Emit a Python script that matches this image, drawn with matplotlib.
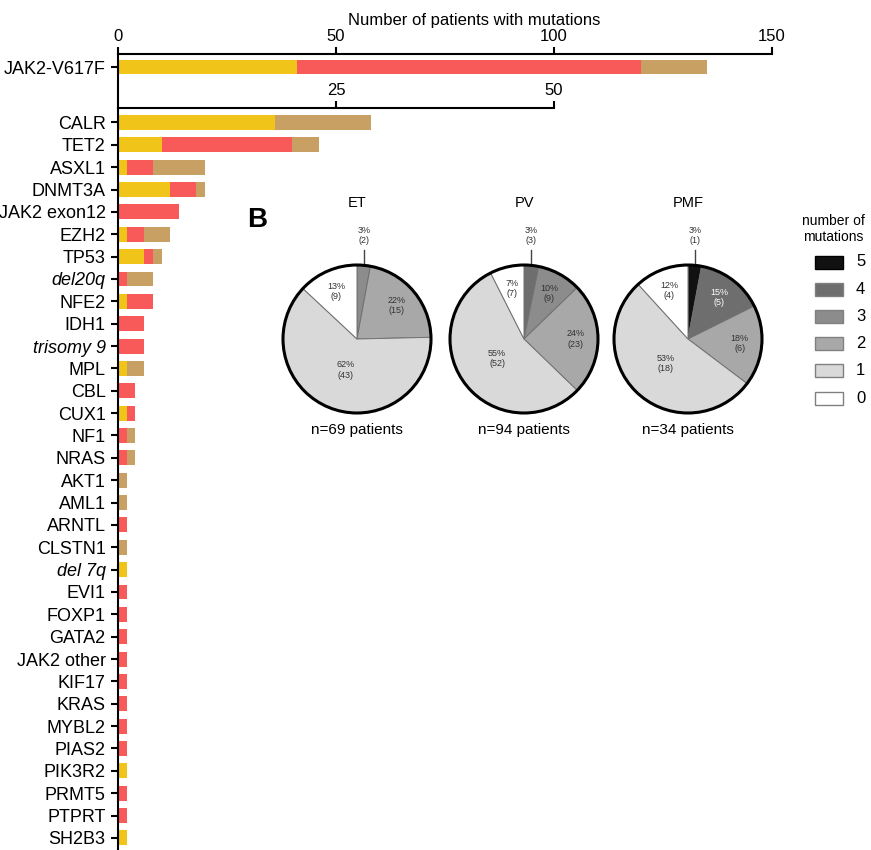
"""
Mutation frequency bars (A) and number-of-mutations pies (B)
"""
import matplotlib
matplotlib.use('Agg')
import matplotlib.pyplot as plt
from matplotlib.patches import Circle, Rectangle
import numpy as np

plt.rcParams['font.family'] = ['Liberation Sans', 'DejaVu Sans']

# --- Panel A data (patients with mutation: ET / PV / PMF) ---
top_gene = 'JAK2-V617F'
top_et, top_pv, top_pmf = 41, 79, 15

genes = ['CALR', 'TET2', 'ASXL1', 'DNMT3A', 'JAK2 exon12', 'EZH2', 'TP53',
         'del20q', 'NFE2', 'IDH1', 'trisomy 9', 'MPL', 'CBL', 'CUX1', 'NF1',
         'NRAS', 'AKT1', 'AML1', 'ARNTL', 'CLSTN1', 'del 7q', 'EVI1', 'FOXP1',
         'GATA2', 'JAK2 other', 'KIF17', 'KRAS', 'MYBL2', 'PIAS2', 'PIK3R2',
         'PRMT5', 'PTPRT', 'SH2B3']
et = [18, 5, 1, 6, 0, 1, 3, 0, 1, 0, 0, 1, 0, 1, 0, 0, 0, 0, 0, 0, 1, 0, 0,
      0, 0, 0, 0, 0, 0, 1, 0, 0, 1]
pv = [0, 15, 3, 3, 7, 2, 1, 1, 3, 3, 3, 0, 2, 1, 1, 1, 0, 0, 1, 0, 0, 1, 1,
      1, 1, 1, 1, 1, 1, 0, 1, 1, 0]
pmf = [11, 3, 6, 1, 0, 3, 1, 3, 0, 0, 0, 2, 0, 0, 1, 1, 1, 1, 0, 1, 0, 0, 0,
       0, 0, 0, 0, 0, 0, 0, 0, 0, 0]
italic_genes = ['del20q', 'trisomy 9', 'del 7q']

# --- Panel B data (patients by number of mutations) ---
mut_classes = ['5', '4', '3', '2', '1', '0']
et_counts = [0, 0, 2, 15, 43, 9]
pv_counts = [0, 3, 9, 23, 52, 7]
pmf_counts = [1, 5, 0, 6, 18, 4]

# Colours
c_et, c_pv, c_pmf = '#F0C419', '#F85A5A', '#C9A063'
mut_colors = ['#111111', '#6e6e6e', '#8c8c8c', '#a8a8a8', '#d9d9d9', '#ffffff']

W, H = 871, 850
fig = plt.figure(figsize=(W / 100, H / 100), dpi=100)


def px_axes(x0, y0, x1, y1):
    return fig.add_axes([x0 / W, 1 - y1 / H, (x1 - x0) / W, (y1 - y0) / H])


def style_axis(ax):
    ax.spines['right'].set_visible(False)
    ax.spines['bottom'].set_visible(False)
    ax.spines['left'].set_linewidth(1.5)
    ax.spines['top'].set_linewidth(1.5)
    ax.xaxis.tick_top()
    ax.tick_params(axis='x', direction='out', length=5, width=1.5, pad=2,
                   labelsize=12)
    ax.tick_params(axis='y', direction='out', length=5, width=1.5, pad=4,
                   labelsize=13)
    ax.set_facecolor('none')


# --- top axis: JAK2-V617F, 0-150 ---
ax1 = px_axes(118, 54, 772, 108)
ax1.barh(0, top_et, height=0.7, color=c_et)
ax1.barh(0, top_pv, left=top_et, height=0.7, color=c_pv)
ax1.barh(0, top_pmf, left=top_et + top_pv, height=0.7, color=c_pmf)
ax1.set_xlim(0, 150)
ax1.set_ylim(2.05, -0.65)
ax1.set_xticks([0, 50, 100, 150])
ax1.set_yticks([0])
ax1.set_yticklabels([top_gene])
style_axis(ax1)

# --- second axis: all other genes, 0-50 ---
ax2 = px_axes(118, 108, 554, 850)
y = np.arange(len(genes))
et_a, pv_a, pmf_a = np.array(et), np.array(pv), np.array(pmf)
ax2.barh(y, et_a, height=0.67, color=c_et)
ax2.barh(y, pv_a, left=et_a, height=0.67, color=c_pv)
ax2.barh(y, pmf_a, left=et_a + pv_a, height=0.67, color=c_pmf)
ax2.set_xlim(0, 50)
ax2.set_ylim(32.54, -0.648)
ax2.set_xticks([25, 50])
ax2.set_yticks(y)
ax2.set_yticklabels(genes)
for lab in ax2.get_yticklabels():
    if lab.get_text() in italic_genes:
        lab.set_style('italic')
style_axis(ax2)

fig.text(474 / W, 1 - 20 / H, 'Number of patients with mutations',
         ha='center', va='center', fontsize=12)

# --- Panel B ---
fig.text(257 / W, 1 - 220 / H, 'B', ha='center', va='center',
         fontsize=20, fontweight='bold')

R = 74.0


def draw_pie(cx, cy, counts, title, n_text):
    ax = px_axes(cx - 80, cy - 80, cx + 80, cy + 80)
    vals = [c for c in counts if c > 0]
    cols = [mut_colors[i] for i, c in enumerate(counts) if c > 0]
    cls = [mut_classes[i] for i, c in enumerate(counts) if c > 0]
    ax.pie(vals, colors=cols, startangle=90, counterclock=False, radius=1,
           wedgeprops=dict(edgecolor='#707070', linewidth=0.7))
    ax.add_patch(Circle((0, 0), 1, fill=False, lw=2.2, ec='black', zorder=5))
    total = sum(vals)
    cum = 0.0
    for v, k in zip(vals, cls):
        frac = v / total
        mid = (cum + frac / 2) * 2 * np.pi
        cum += frac
        label = f'{round(100 * frac)}%\n({v})'
        sx, sy = np.sin(mid), np.cos(mid)
        if frac < 0.05:
            ax.plot([sx, sx], [sy, 1.2], color='#444444', lw=1.0,
                    clip_on=False)
            ax.text(sx, 1.40, label, ha='center', va='center', fontsize=6.5,
                    color='#333333', linespacing=1.2)
        else:
            r = 0.45 if frac > 0.4 else 0.7
            col = 'white' if k in ('4', '5') else '#333333'
            ax.text(r * sx, r * sy, label, ha='center', va='center',
                    fontsize=6.5, color=col, linespacing=1.2)
    lim = 80 / R
    ax.set_xlim(-lim, lim)
    ax.set_ylim(-lim, lim)
    ax.axis('off')
    ax.text(0, (cy - 203) / R, title, ha='center', va='center', fontsize=10.5)
    ax.text(0, -(430 - cy) / R, n_text, ha='center', va='center',
            fontsize=11)


draw_pie(357, 339, et_counts, 'ET', f'n={sum(et_counts)} patients')
draw_pie(524, 339, pv_counts, 'PV', f'n={sum(pv_counts)} patients')
draw_pie(688, 339, pmf_counts, 'PMF', f'n={sum(pmf_counts)} patients')

# legend for number of mutations
lax = fig.add_axes([0, 0, 1, 1])
lax.set_xlim(0, W)
lax.set_ylim(H, 0)
lax.axis('off')
lax.text(833, 229, 'number of\nmutations', ha='center', va='center',
         fontsize=10, linespacing=1.1)
for i, (k, col) in enumerate(zip(mut_classes, mut_colors)):
    yc = 262 + i * 27.2
    ec = 'black' if k == '5' else '#808080'
    lax.add_patch(Rectangle((815, yc - 6.5), 28, 13, facecolor=col,
                            edgecolor=ec, lw=1.0))
    lax.text(856, yc, k, ha='left', va='center', fontsize=12)

plt.savefig('out.png', dpi=100)
plt.close()
